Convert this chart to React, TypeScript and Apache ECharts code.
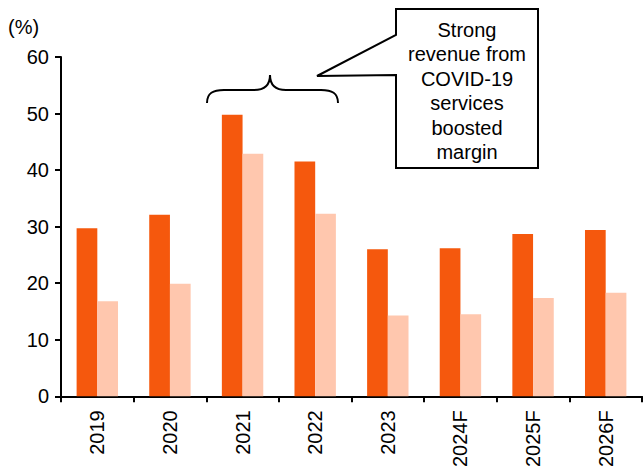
import React, { useEffect, useRef } from "react";
import * as echarts from "echarts";

const categories = ["2019", "2020", "2021", "2022", "2023", "2024F", "2025F", "2026F"];
const seriesA = [29.7, 32.1, 49.8, 41.5, 26.0, 26.2, 28.7, 29.4];
const seriesB = [16.8, 19.9, 42.9, 32.3, 14.3, 14.5, 17.4, 18.3];
const yTicks = { min: 0, max: 60, interval: 10 };
const calloutLines = ["Strong", "revenue from", "COVID-19", "services", "boosted", "margin"];

const FONT = "'Liberation Sans', Arial, sans-serif";

const bracePath =
  "M207,103 C207,93 213,90 224,90 L254,90 C265,90 270,85 270,75 C270,85 275,90 286,90 L321,90 C332,90 338,93 338,103";

let registered = false;
function registerBrace() {
  if (registered) return;
  echarts.graphic.registerShape("brace", echarts.graphic.extendPath(bracePath, {}) as any);
  registered = true;
}

export default function App() {
  const ref = useRef<HTMLDivElement>(null);
  useEffect(() => {
    if (!ref.current) return;
    registerBrace();
    const chart = echarts.init(ref.current, null, { renderer: "svg" });
    const lineH = 24.4;
    chart.setOption({
      animation: false,
      grid: { left: 61, right: 2, top: 57, bottom: 72, containLabel: false },
      xAxis: {
        type: "category",
        data: categories,
        axisLine: { show: true, lineStyle: { color: "#000", width: 2 } },
        axisTick: { show: true, length: 6, lineStyle: { color: "#000", width: 2 } },
        axisLabel: {
          rotate: 90,
          margin: 14,
          color: "#000",
          fontSize: 20,
          fontFamily: FONT,
        },
      },
      yAxis: {
        type: "value",
        min: yTicks.min,
        max: yTicks.max,
        interval: yTicks.interval,
        axisLine: { show: true, lineStyle: { color: "#000", width: 2 } },
        axisTick: { show: true, length: 6, lineStyle: { color: "#000", width: 2 } },
        splitLine: { show: false },
        axisLabel: { color: "#000", fontSize: 20, fontFamily: FONT, margin: 12 },
      },
      series: [
        {
          type: "bar",
          data: seriesA,
          itemStyle: { color: "#F5580D" },
          barWidth: 20.7,
          barGap: "0%",
        },
        {
          type: "bar",
          data: seriesB,
          itemStyle: { color: "#FFC7AE" },
          barWidth: 20.7,
          barGap: "0%",
        },
      ],
      graphic: [
        {
          type: "text",
          left: 8,
          top: 17,
          style: { text: "(%)", fill: "#000", font: `20px ${FONT}` },
        },
        {
          type: "brace",
          shape: {},
          style: { stroke: "#000", fill: "none", lineWidth: 2 },
        },
        {
          type: "polygon",
          shape: {
            points: [
              [396, 9],
              [538, 9],
              [538, 168],
              [396, 168],
              [396, 75],
              [317, 76],
              [396, 35],
            ],
          },
          style: { stroke: "#000", fill: "#fff", lineWidth: 2 },
        },
        ...calloutLines.map((t, i) => ({
          type: "text",
          x: 467,
          y: 30 + i * lineH,
          style: {
            text: t,
            fill: "#000",
            font: `20px ${FONT}`,
            align: "center",
            verticalAlign: "middle",
          },
        })),
      ],
    });
    return () => chart.dispose();
  }, []);
  return (
    <div
      ref={ref}
      style={{ position: "absolute", left: 0, top: 0, width: 644, height: 470, background: "#fff" }}
    />
  );
}
